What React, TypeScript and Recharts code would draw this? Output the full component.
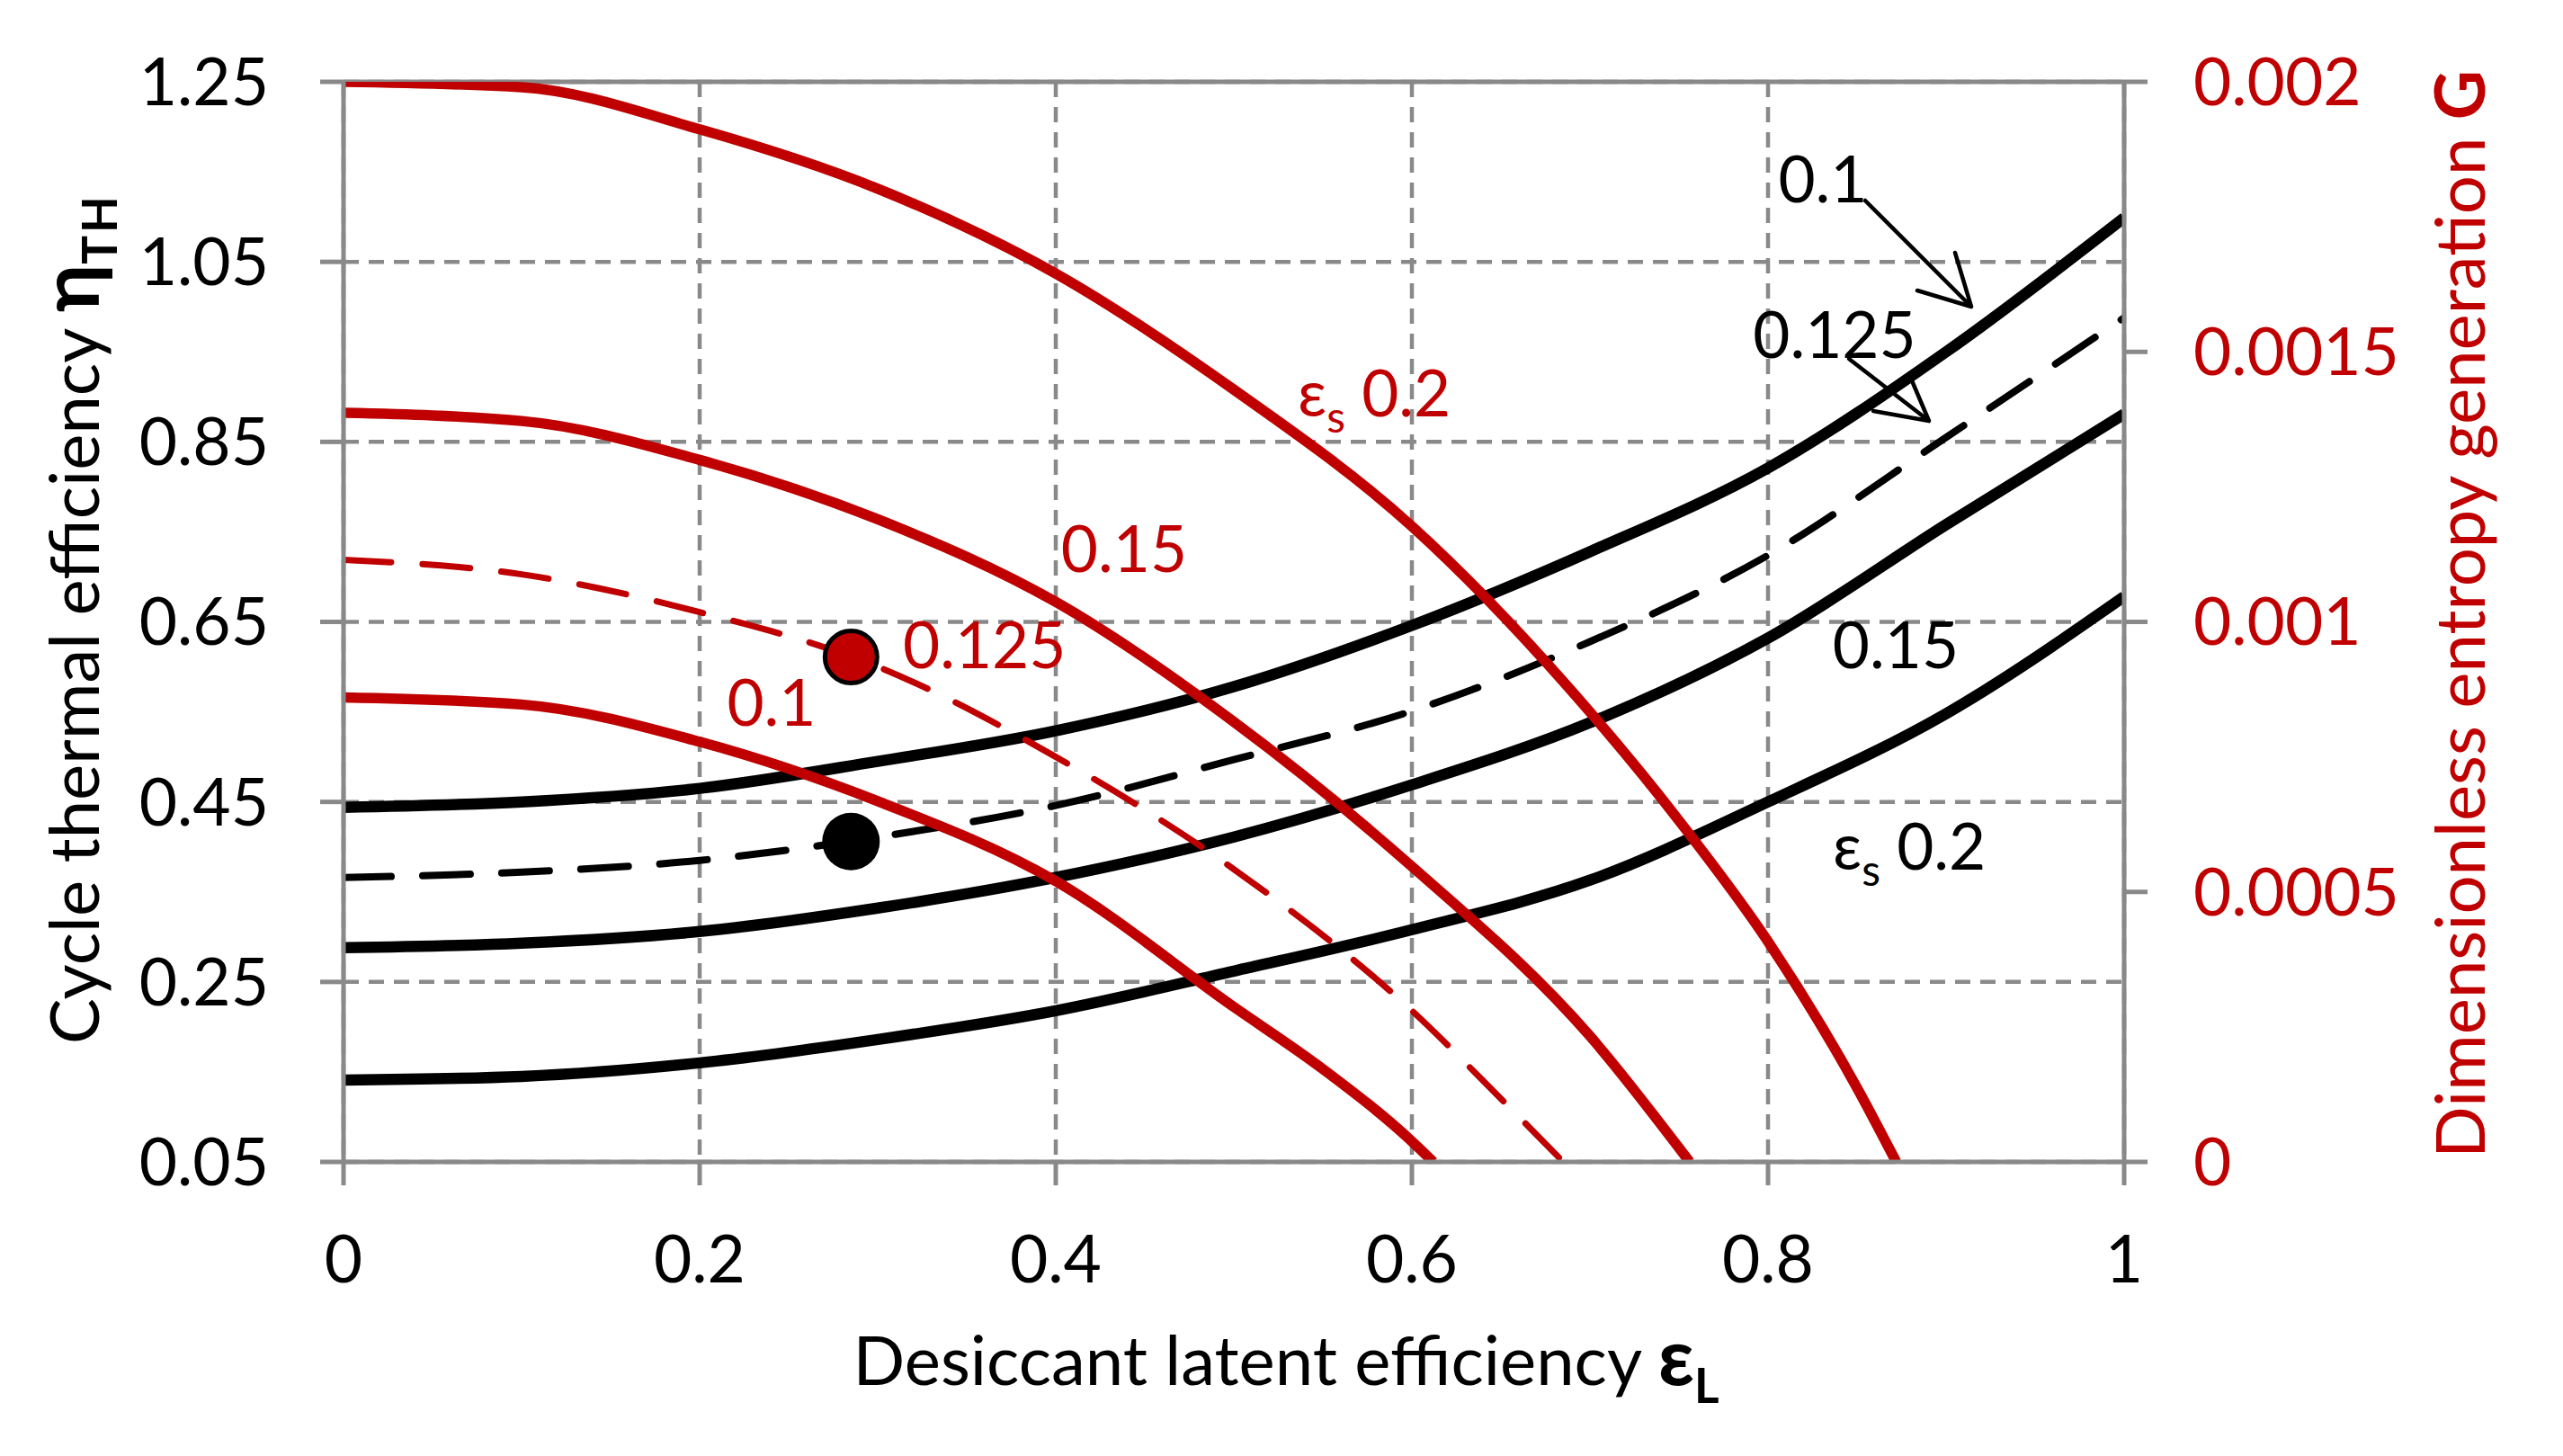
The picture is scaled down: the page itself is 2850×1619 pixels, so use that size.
import { ComposedChart, Line, XAxis, YAxis, CartesianGrid, ReferenceLine, ReferenceDot } from 'recharts'

const RED = '#C00000'
const GRAY = '#898989'
const FONT = 'Lato, "Open Sans", sans-serif'

// axis ticks
const xTicks = [0, 0.2, 0.4, 0.6, 0.8, 1]
const etaTicks = [0.05, 0.25, 0.45, 0.65, 0.85, 1.05, 1.25]
const genTicks = [0, 0.0005, 0.001, 0.0015, 0.002]

// cycle thermal efficiency (left axis), one curve per sensible efficiency
const epsL = [0, 0.1, 0.2, 0.3, 0.4, 0.5, 0.6, 0.7, 0.8, 0.9, 1]
const eta010 = [0.444, 0.45, 0.465, 0.495, 0.529, 0.578, 0.646, 0.728, 0.821, 0.95, 1.099]
const eta0125 = [0.366, 0.372, 0.385, 0.411, 0.446, 0.497, 0.551, 0.628, 0.724, 0.855, 0.988]
const eta015 = [0.288, 0.293, 0.306, 0.332, 0.366, 0.411, 0.469, 0.538, 0.632, 0.758, 0.881]
const eta020 = [0.141, 0.145, 0.16, 0.186, 0.218, 0.262, 0.308, 0.363, 0.45, 0.548, 0.678]

// dimensionless entropy generation (right axis)
const gen020X = [0, 0.1, 0.2, 0.3, 0.4, 0.5, 0.6, 0.7, 0.75, 0.8, 0.85, 0.872]
const gen020 = [0.002, 0.00199, 0.001912, 0.001802, 0.001645, 0.00143, 0.001177, 0.000833, 0.000632, 0.000408, 0.000137, 0]
const gen015X = [0, 0.1, 0.2, 0.3, 0.4, 0.5, 0.6, 0.7, 0.756]
const gen015 = [0.001387, 0.001372, 0.0013, 0.00119, 0.001037, 0.000815, 0.000547, 0.000233, 0]
const gen0125X = [0, 0.1, 0.2, 0.3, 0.4, 0.5, 0.6, 0.65, 0.685]
const gen0125 = [0.001115, 0.001088, 0.001018, 0.000917, 0.00075, 0.000542, 0.00028, 0.000117, 0]
const gen010X = [0, 0.1, 0.2, 0.3, 0.4, 0.5, 0.55, 0.6, 0.612]
const gen010 = [0.00086, 0.000847, 0.000778, 0.000668, 0.00052, 0.000287, 0.000172, 0.000038, 0]

// highlighted design point
const pointX = 0.285
const pointEta = 0.406
const pointGen = 0.000935

const pts = (xs: number[], ys: number[]) => xs.map((x, i) => ({ x, y: ys[i] }))

const tickFont = { fontFamily: FONT, fontSize: 73 }
const labelStyle = { fontFamily: FONT, fontSize: 71 }

export default function App() {
  return (
    <div style={{ position: 'absolute', left: 0, top: 0, width: 2850, height: 1619, background: '#fff' }}>
      <ComposedChart width={2850} height={1619} margin={{ top: 91, right: 0, bottom: 0, left: 0 }}>
        <CartesianGrid yAxisId="left" stroke={GRAY} strokeWidth={4.5} strokeDasharray="17 11" />
        <XAxis
          dataKey="x"
          type="number"
          domain={[0, 1]}
          ticks={xTicks}
          interval={0}
          allowDataOverflow
          height={327}
          tickSize={26}
          tickMargin={56}
          axisLine={{ stroke: GRAY, strokeWidth: 5 }}
          tickLine={{ stroke: GRAY, strokeWidth: 5 }}
          tick={{ ...tickFont, fill: '#000' }}
        />
        <YAxis
          yAxisId="left"
          type="number"
          domain={[0.05, 1.25]}
          ticks={etaTicks}
          interval={0}
          allowDataOverflow
          width={382}
          tickSize={26}
          tickMargin={57}
          axisLine={{ stroke: GRAY, strokeWidth: 5 }}
          tickLine={{ stroke: GRAY, strokeWidth: 5 }}
          tick={{ ...tickFont, fill: '#000' }}
        />
        <YAxis
          yAxisId="right"
          orientation="right"
          type="number"
          domain={[0, 0.002]}
          ticks={genTicks}
          interval={0}
          allowDataOverflow
          width={488}
          tickSize={26}
          tickMargin={51}
          axisLine={{ stroke: GRAY, strokeWidth: 5 }}
          tickLine={{ stroke: GRAY, strokeWidth: 5 }}
          tick={{ ...tickFont, fill: RED }}
        />
        <ReferenceLine yAxisId="left" y={1.25} stroke={GRAY} strokeWidth={5} />

        <Line yAxisId="left" data={pts(epsL, eta010)} dataKey="y" type="monotone" stroke="#000" strokeWidth={12.5} dot={false} isAnimationActive={false} />
        <Line yAxisId="left" data={pts(epsL, eta0125)} dataKey="y" type="monotone" stroke="#000" strokeWidth={8} strokeDasharray="53 35" strokeLinecap="round" dot={false} isAnimationActive={false} />
        <Line yAxisId="left" data={pts(epsL, eta015)} dataKey="y" type="monotone" stroke="#000" strokeWidth={12.5} dot={false} isAnimationActive={false} />
        <Line yAxisId="left" data={pts(epsL, eta020)} dataKey="y" type="monotone" stroke="#000" strokeWidth={12.5} dot={false} isAnimationActive={false} />

        <Line yAxisId="right" data={pts(gen020X, gen020)} dataKey="y" type="monotone" stroke={RED} strokeWidth={11.5} dot={false} isAnimationActive={false} />
        <Line yAxisId="right" data={pts(gen015X, gen015)} dataKey="y" type="monotone" stroke={RED} strokeWidth={11.5} dot={false} isAnimationActive={false} />
        <Line yAxisId="right" data={pts(gen0125X, gen0125)} dataKey="y" type="monotone" stroke={RED} strokeWidth={7} strokeDasharray="53 35" strokeLinecap="round" dot={false} isAnimationActive={false} />
        <Line yAxisId="right" data={pts(gen010X, gen010)} dataKey="y" type="monotone" stroke={RED} strokeWidth={11.5} dot={false} isAnimationActive={false} />

        <ReferenceDot yAxisId="left" x={pointX} y={pointEta} r={32} fill="#000" stroke="none" />
        <ReferenceDot yAxisId="right" x={pointX} y={pointGen} r={29} fill={RED} stroke="#000" strokeWidth={5} />
      </ComposedChart>

      <svg width={2850} height={1619} style={{ position: 'absolute', left: 0, top: 0, pointerEvents: 'none' }}>
        {/* axis titles */}
        <text x={1430} y={1540} textAnchor="middle" fontFamily={FONT} fontSize={76} fill="#000">
          Desiccant latent efficiency <tspan fontWeight="bold" fontSize={88}>ε</tspan>
          <tspan fontWeight="bold" fontSize={53} dy={20}>L</tspan>
        </text>
        <text transform="translate(110,688) rotate(-90)" textAnchor="middle" fontFamily={FONT} fontSize={76} fill="#000">
          Cycle thermal efficiency <tspan fontWeight="bold" fontSize={90}>η</tspan>
          <tspan fontWeight="bold" fontSize={53} dy={20} letterSpacing={3}>TH</tspan>
        </text>
        <text transform="translate(2763,683) rotate(-90)" textAnchor="middle" fontFamily={FONT} fontSize={76} fill={RED}>
          Dimensionless entropy generation <tspan fontWeight="bold">G</tspan>
        </text>

        {/* black curve labels */}
        <text x={2027} y={225} textAnchor="middle" {...labelStyle} fill="#000">0.1</text>
        <text x={2040} y={398} textAnchor="middle" {...labelStyle} fill="#000">0.125</text>
        <text x={2108} y={743} textAnchor="middle" {...labelStyle} fill="#000">0.15</text>
        <text x={2038} y={967} {...labelStyle} fill="#000">
          ε<tspan fontSize={48} dy={18}>s</tspan>
          <tspan dy={-18}> 0.2</tspan>
        </text>
        <g stroke="#000" strokeWidth={4.5} fill="none" strokeLinecap="round" strokeLinejoin="round">
          <path d="M2074,223 L2192,341 M2174,281 L2192,341 L2132,323" />
          <path d="M2056,399 L2145,468 M2125,421 L2145,468 L2083,457" />
        </g>

        {/* red curve labels */}
        <text x={1443} y={463} {...labelStyle} fill={RED}>
          ε<tspan fontSize={48} dy={18}>s</tspan>
          <tspan dy={-18}> 0.2</tspan>
        </text>
        <text x={1250} y={636} textAnchor="middle" {...labelStyle} fill={RED}>0.15</text>
        <text x={1004} y={743} {...labelStyle} fill={RED}>0.125</text>
        <text x={858} y={807} textAnchor="middle" {...labelStyle} fill={RED}>0.1</text>
      </svg>
    </div>
  )
}
